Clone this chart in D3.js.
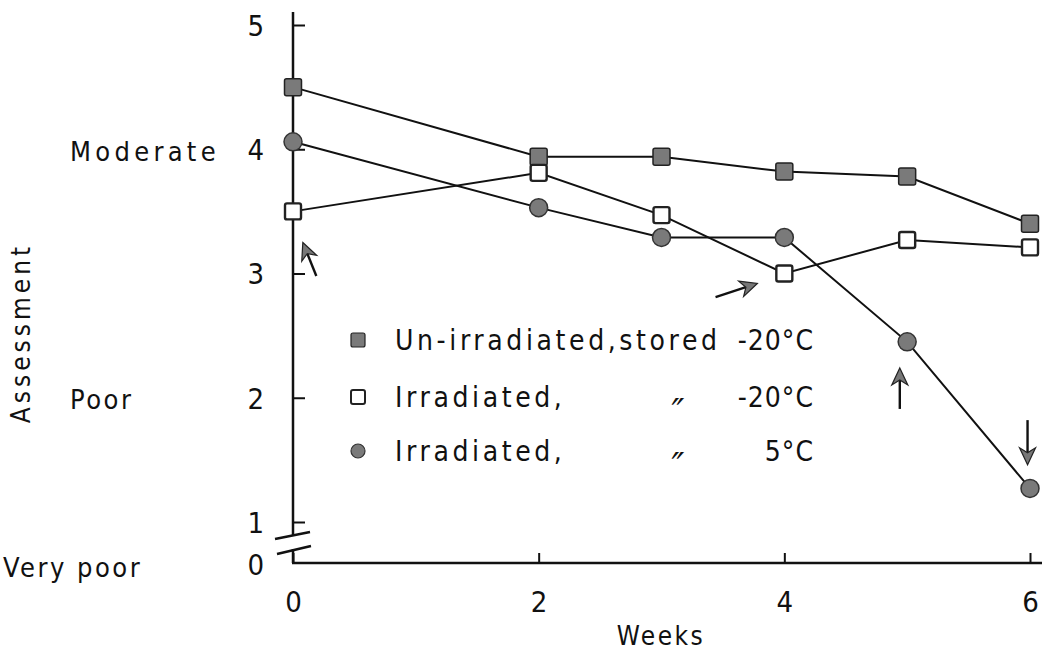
<!DOCTYPE html>
<html>
<head>
<meta charset="utf-8">
<script src="https://cdn.jsdelivr.net/npm/d3@7"></script>
<style>
  body { margin: 0; background: #fff; }
  text { font-family: "DejaVu Sans Condensed", "DejaVu Sans", sans-serif; fill: #111; }
</style>
</head>
<body>
<div class="visHolder"></div>
<script>
// values
let weeks = [0, 2, 3, 4, 5, 6];
let unirrStored = [4.5, 3.94, 3.94, 3.82, 3.78, 3.4];
let irrMinus20 = [3.5, 3.81, 3.47, 3.0, 3.27, 3.21];
let irr5 = [4.06, 3.53, 3.29, 3.29, 2.45, 1.27];

let yTicks = [1, 2, 3, 4, 5];
let xTicks = [0, 2, 4, 6];
let levelNames = ['Moderate', 'Poor', 'Very poor'];
let levelValues = [4, 2, 0];

let legendNames = ['Un-irradiated,stored', 'Irradiated,', 'Irradiated,'];
let legendDitto = ['', '\u2033', '\u2033'];
let legendTemps = ['-20\u00b0C', '-20\u00b0C', '5\u00b0C'];

// arrow annotations (week, assessment): tail -> head
let arrowTails = [[0.19, 2.98], [3.44, 2.81], [4.94, 1.91], [5.98, 1.82]];
let arrowHeads = [[0.08, 3.25], [3.78, 2.92], [4.94, 2.24], [5.98, 1.46]];

let width = 1048;
let height = 651;
let x0 = 293;      // y axis position
let yBase = 563;   // x axis position (value 0, after the break)
let font = '"DejaVu Sans Condensed", "DejaVu Sans", sans-serif';

let svg = d3.select('.visHolder').append('svg')
  .attr('width', width)
  .attr('height', height);

let xScale = d3.scaleLinear().domain([0, 6]).range([x0, 1030]);
let yScale = d3.scaleLinear().domain([1, 5]).range([522, 25]);

function drawAxes() {
  let ax = svg.append('g').attr('stroke', '#111').attr('stroke-width', 2.5).attr('fill', 'none');
  // y axis with break
  ax.append('line').attr('x1', x0).attr('y1', 12).attr('x2', x0).attr('y2', 535);
  ax.append('line').attr('x1', x0).attr('y1', 549).attr('x2', x0).attr('y2', yBase);
  ax.append('line').attr('x1', x0 - 1).attr('y1', yBase).attr('x2', 1042).attr('y2', yBase);
  ax.append('line').attr('x1', 275).attr('y1', 539).attr('x2', 310).attr('y2', 532);
  ax.append('line').attr('x1', 277).attr('y1', 554).attr('x2', 311).attr('y2', 546);

  let yAxis = d3.axisLeft(yScale).tickValues(yTicks).tickFormat(d3.format('d'))
    .tickSize(-12).tickPadding(29);
  let gy = svg.append('g').attr('transform', 'translate(' + x0 + ',0)').call(yAxis);
  gy.select('.domain').remove();
  gy.selectAll('.tick line').attr('stroke', '#111').attr('stroke-width', 2);
  gy.selectAll('.tick text').attr('font-size', 29).attr('fill', '#111')
    .attr('font-family', font).attr('dy', '0.36em');

  let xAxis = d3.axisBottom(xScale).tickValues(xTicks).tickFormat(d3.format('d'))
    .tickSize(-10).tickPadding(28);
  let gx = svg.append('g').attr('transform', 'translate(0,' + yBase + ')').call(xAxis);
  gx.select('.domain').remove();
  gx.selectAll('.tick line').attr('stroke', '#111').attr('stroke-width', 2);
  gx.selectAll('.tick text').attr('font-size', 29).attr('fill', '#111')
    .attr('font-family', font);

  // the 0 label sits on the x axis level
  svg.append('text').attr('x', x0 - 29).attr('y', yBase + 2).attr('dy', '0.36em')
    .attr('text-anchor', 'end').attr('font-size', 29).text('0');

  svg.selectAll('.level').data(levelNames).enter().append('text')
    .attr('class', 'level')
    .attr('x', (d, i) => levelValues[i] == 0 ? 3 : 70)
    .attr('y', (d, i) => levelValues[i] == 0 ? yBase + 4 : yScale(levelValues[i]) + 2)
    .attr('dy', '0.36em')
    .attr('font-size', 27)
    .attr('letter-spacing', (d, i) => levelValues[i] == 4 ? 4.3 : 2.5)
    .text(d => d);

  svg.append('text')
    .attr('transform', 'translate(30,333) rotate(-90)')
    .attr('text-anchor', 'middle')
    .attr('font-size', 26)
    .attr('letter-spacing', 4)
    .text('Assessment');

  svg.append('text')
    .attr('x', 661).attr('y', 636).attr('dy', '0.36em')
    .attr('text-anchor', 'middle')
    .attr('font-size', 26)
    .attr('letter-spacing', 2.5)
    .text('Weeks');
}

let line = d3.line().x((d, i) => xScale(weeks[i])).y(d => yScale(d));

function drawSeries(values, kind) {
  svg.append('path').datum(values)
    .attr('d', line)
    .attr('fill', 'none')
    .attr('stroke', '#111')
    .attr('stroke-width', 2);
  let g = svg.append('g');
  if (kind == 'circle') {
    g.selectAll('circle').data(values).enter().append('circle')
      .attr('cx', (d, i) => xScale(weeks[i]))
      .attr('cy', d => yScale(d))
      .attr('r', 9)
      .attr('fill', '#7a7a7a')
      .attr('stroke', '#333')
      .attr('stroke-width', 1.5);
  } else {
    let s = kind == 'filled' ? 17 : 16;
    g.selectAll('rect').data(values).enter().append('rect')
      .attr('x', (d, i) => xScale(weeks[i]) - s / 2)
      .attr('y', d => yScale(d) - s / 2)
      .attr('width', s).attr('height', s)
      .attr('rx', 2)
      .attr('fill', kind == 'filled' ? '#7a7a7a' : '#fff')
      .attr('stroke', '#222')
      .attr('stroke-width', kind == 'filled' ? 1.5 : 2.4);
  }
}

function drawArrows() {
  arrowTails.forEach((t, i) => {
    let h = arrowHeads[i];
    let x1 = xScale(t[0]), y1 = yScale(t[1]);
    let x2 = xScale(h[0]), y2 = yScale(h[1]);
    let dx = x2 - x1, dy = y2 - y1;
    let len = Math.sqrt(dx * dx + dy * dy);
    let ux = dx / len, uy = dy / len;
    let hl = 17, hw = 8;
    let bx = x2 - ux * hl, by = y2 - uy * hl;
    let nx = bx + ux * 5, ny = by + uy * 5;
    svg.append('line')
      .attr('x1', x1).attr('y1', y1).attr('x2', nx).attr('y2', ny)
      .attr('stroke', '#111').attr('stroke-width', 2.4);
    let pts = [[x2, y2], [bx - uy * hw, by + ux * hw], [nx, ny], [bx + uy * hw, by - ux * hw]];
    svg.append('path')
      .attr('d', 'M' + pts.map(p => p.join(',')).join('L') + 'Z')
      .attr('fill', '#777').attr('stroke', '#222').attr('stroke-width', 1.2);
  });
}

function drawLegend() {
  let rows = [340, 397, 451];
  let kinds = ['filled', 'open', 'circle'];
  let g = svg.append('g');
  rows.forEach((y, i) => {
    if (kinds[i] == 'circle') {
      g.append('circle').attr('cx', 358).attr('cy', y).attr('r', 7)
        .attr('fill', '#7a7a7a').attr('stroke', '#333').attr('stroke-width', 1.2);
    } else {
      g.append('rect').attr('x', 351).attr('y', y - 7).attr('width', 14).attr('height', 14)
        .attr('rx', 2)
        .attr('fill', kinds[i] == 'filled' ? '#7a7a7a' : '#fff')
        .attr('stroke', '#222').attr('stroke-width', kinds[i] == 'filled' ? 1.2 : 2);
    }
    g.append('text').attr('x', 395).attr('y', y).attr('dy', '0.36em')
      .attr('font-size', 28).attr('letter-spacing', 3.6).text(legendNames[i]);
    g.append('text').attr('x', 678).attr('y', y + 14).attr('dy', '0.36em')
      .attr('text-anchor', 'middle').attr('font-size', 38).attr('font-style', 'italic')
      .text(legendDitto[i]);
    g.append('text').attr('x', 814).attr('y', y).attr('dy', '0.36em')
      .attr('text-anchor', 'end').attr('font-size', 28).attr('letter-spacing', 1)
      .text(legendTemps[i]);
  });
}

drawAxes();
drawSeries(unirrStored, 'filled');
drawSeries(irrMinus20, 'open');
drawSeries(irr5, 'circle');
drawArrows();
drawLegend();
</script>
</body>
</html>
